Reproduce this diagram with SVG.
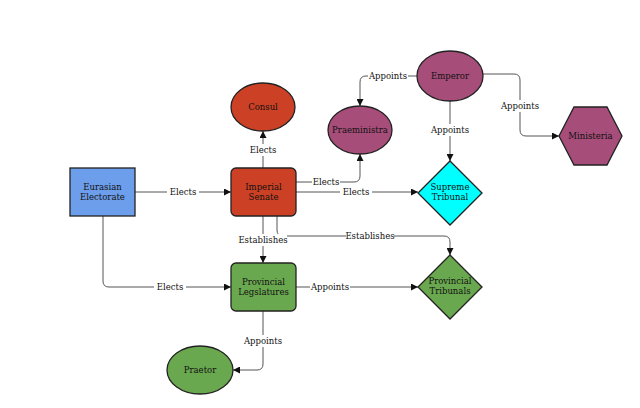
<svg xmlns="http://www.w3.org/2000/svg" width="640" height="408" viewBox="0 0 640 408">
<style>
.n{stroke:#222;stroke-width:1.3}
.t{font-family:"DejaVu Serif",serif;font-size:8.5px;fill:#111;text-anchor:middle}
.c path{fill:none;stroke:#555;stroke-width:1;marker-end:url(#a)}
.l rect{fill:#fff}
</style>
<defs><marker id="a" viewBox="0 0 10 10" refX="10" refY="5" markerWidth="7" markerHeight="7" orient="auto"><path d="M0,0L10,5L0,10z" fill="#111"/></marker></defs>
<rect width="640" height="408" fill="#fff"/>
<g class="c">
<path d="M135,192H231"/>
<path d="M103,216V281Q103,287 109,287H231"/>
<path d="M263,168V131"/>
<path d="M296,182H354Q360,182 360,176V154"/>
<path d="M296,192H418"/>
<path d="M263,216V263"/>
<path d="M277,216V230Q277,236 283,236H444Q450,236 450,242V255"/>
<path d="M296,287H418"/>
<path d="M263,311V364Q263,370 257,370H233"/>
<path d="M417,76H366Q360,76 360,82V106"/>
<path d="M450,101V161"/>
<path d="M483,74H514Q520,74 520,80V130Q520,136 526,136H559"/>
</g>
<g class="l t">
<rect x="167" y="186" width="32" height="12"/><text x="183" y="195">Elects</text>
<rect x="154" y="281" width="32" height="12"/><text x="170" y="290">Elects</text>
<rect x="247" y="144" width="32" height="12"/><text x="263" y="153">Elects</text>
<rect x="312" y="176" width="28" height="12"/><text x="326" y="185">Elects</text>
<rect x="340" y="186" width="32" height="12"/><text x="356" y="195">Elects</text>
<rect x="239" y="234" width="48" height="12"/><text x="263" y="243">Establishes</text>
<rect x="346" y="230" width="48" height="12"/><text x="370" y="239">Establishes</text>
<rect x="310" y="281" width="40" height="12"/><text x="330" y="290">Appoints</text>
<rect x="243" y="335" width="40" height="12"/><text x="263" y="344">Appoints</text>
<rect x="368" y="70" width="40" height="12"/><text x="388" y="79">Appoints</text>
<rect x="430" y="124" width="40" height="12"/><text x="450" y="133">Appoints</text>
<rect x="500" y="100" width="40" height="12"/><text x="520" y="109">Appoints</text>
</g>
<g id="electorate"><rect class="n" x="70" y="168" width="65" height="48" fill="#6d9eeb"/><text class="t" x="102.5" y="190">Eurasian</text><text class="t" x="102.5" y="200">Electorate</text></g>
<g id="senate"><rect class="n" x="231" y="168" width="65" height="48" rx="5" fill="#cc4125"/><text class="t" x="263.5" y="190">Imperial</text><text class="t" x="263.5" y="200">Senate</text></g>
<g id="consul"><ellipse class="n" cx="263" cy="107" rx="32" ry="24" fill="#cc4125"/><text class="t" x="263" y="110">Consul</text></g>
<g id="praeministra"><ellipse class="n" cx="360" cy="130" rx="32" ry="24" fill="#a64d79"/><text class="t" x="360" y="133">Praeministra</text></g>
<g id="emperor"><ellipse class="n" cx="450" cy="76" rx="33" ry="25" fill="#a64d79"/><text class="t" x="450" y="79">Emperor</text></g>
<g id="ministeria"><polygon class="n" points="559,136 574,107 607,107 622,136 607,165 574,165" fill="#a64d79"/><text class="t" x="590.5" y="139">Ministeria</text></g>
<g id="supreme"><polygon class="n" points="450,161 482,193 450,225 418,193" fill="#00ffff"/><text class="t" x="450" y="190">Supreme</text><text class="t" x="450" y="200">Tribunal</text></g>
<g id="provleg"><rect class="n" x="231" y="263" width="65" height="48" rx="5" fill="#6aa84f"/><text class="t" x="263.5" y="285">Provincial</text><text class="t" x="263.5" y="295">Legslatures</text></g>
<g id="provtrib"><polygon class="n" points="450,255 482,287 450,319 418,287" fill="#6aa84f"/><text class="t" x="450" y="284">Provincial</text><text class="t" x="450" y="294">Tribunals</text></g>
<g id="praetor"><ellipse class="n" cx="200" cy="370" rx="33" ry="24" fill="#6aa84f"/><text class="t" x="200" y="373">Praetor</text></g>
</svg>
